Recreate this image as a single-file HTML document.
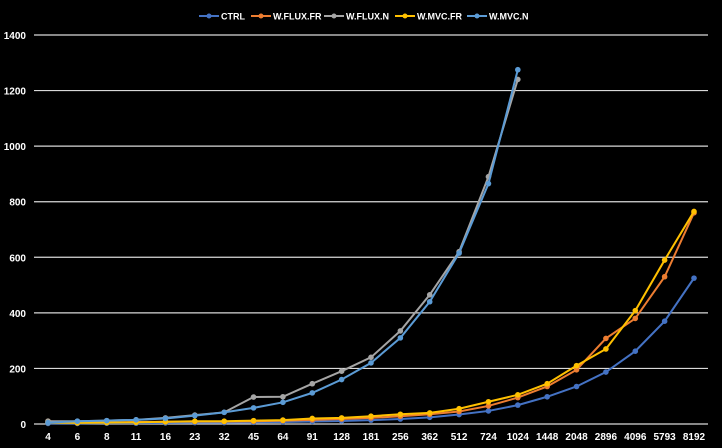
<!DOCTYPE html>
<html><head><meta charset="utf-8"><style>
html,body{margin:0;padding:0;background:#000;}
svg{display:block;font-family:"Liberation Sans",sans-serif;}
</style></head><body>
<svg id="chart" width="722" height="448">
<g id="grid"></g>
<g id="yticks"></g>
<g id="xticks"></g>
<g id="series"></g>
<g id="legend"></g>
</svg>
<script>
const categories=["4","6","8","11","16","23","32","45","64","91","128","181","256","362","512","724","1024","1448","2048","2896","4096","5793","8192"];
const yTicks=[0,200,400,600,800,1000,1200,1400];
const ctrl=[2,2,3,3,4,5,5,6,7,9,11,14,18,24,34,47,68,98,135,187,262,370,525];
const fluxFr=[10,5,6,7,8,9,9,10,12,15,18,22,28,35,45,65,95,135,195,308,380,530,760];
const fluxN=[10,10,12,15,22,32,42,97,98,145,190,240,335,465,620,890,1240];
const mvcFr=[5,4,5,6,8,10,10,12,14,20,22,28,35,40,55,80,105,145,210,270,408,590,765];
const mvcN=[5,10,12,15,20,30,42,58,78,112,160,220,310,440,615,865,1275];
const seriesNames=["CTRL","W.FLUX.FR","W.FLUX.N","W.MVC.FR","W.MVC.N"];
const seriesColors=["#4472C4","#ED7D31","#A5A5A5","#FFC000","#5B9BD5"];
const seriesData=[ctrl,fluxFr,fluxN,mvcFr,mvcN];
const X0=48,X1=694,Y0=424,Y1=35,YMAX=1400;
function xs(i){return X0+i*(X1-X0)/(categories.length-1);}
function ys(v){return Y0-v*(Y0-Y1)/YMAX;}
const NS="http://www.w3.org/2000/svg";
function mk(t,a,p){const e=document.createElementNS(NS,t);for(const k in a)e.setAttribute(k,a[k]);p.appendChild(e);return e;}
const grid=document.getElementById('grid'),yt=document.getElementById('yticks'),xt=document.getElementById('xticks'),sg=document.getElementById('series'),lg=document.getElementById('legend');
yTicks.forEach(v=>{
 const l=mk('line',{x1:X0-14,x2:X1+14,y1:ys(v),y2:ys(v),stroke:"#d9d9d9","stroke-width":1.2},grid);
 
 
 const t=mk('text',{x:26,y:ys(v)+4,fill:"#fff","font-size":10,"text-anchor":"end","font-weight":"bold"},yt);
 t.textContent=v;
 
 
});
categories.forEach((c,i)=>{
 const t=mk('text',{x:xs(i),y:440,fill:"#fff","font-size":10,"text-anchor":"middle","font-weight":"bold"},xt);
 t.textContent=c;
 
 
});
seriesData.forEach((d,s)=>{
 const g=mk('g',{},sg);
 
 
 const pts=d.map((v,i)=>xs(i)+","+ys(v)).join(" ");
 mk('polyline',{points:pts,fill:"none",stroke:seriesColors[s],"stroke-width":2},g);
 d.forEach((v,i)=>{
  const c=mk('circle',{cx:xs(i),cy:ys(v),r:2.8,fill:seriesColors[s]},g);
  
  
 });
});
const lx=[199,251,324,395,467];
seriesNames.forEach((n,s)=>{
 const g=mk('g',{},lg);
 
 
 mk('line',{x1:lx[s],x2:lx[s]+20,y1:16,y2:16,stroke:seriesColors[s],"stroke-width":2},g);
 mk('circle',{cx:lx[s]+10,cy:16,r:2.5,fill:seriesColors[s]},g);
 const t=mk('text',{x:lx[s]+22,y:19.5,fill:"#fff","font-size":9,"font-weight":"bold"},g);
 t.textContent=n;
});
</script>
</body></html>
